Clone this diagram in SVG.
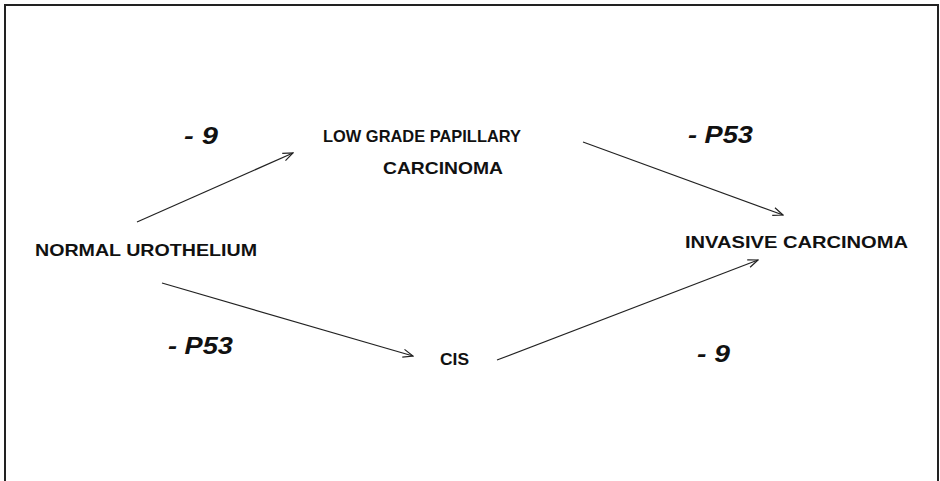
<svg xmlns="http://www.w3.org/2000/svg" width="940" height="481" viewBox="0 0 940 481">
<defs>
<style>
.lbl{font-family:"Liberation Sans",Arial,sans-serif;font-size:16.5px;font-weight:bold;fill:#111}
.mut{font-family:"Liberation Sans",Arial,sans-serif;font-size:23px;font-weight:bold;font-style:italic;fill:#111}
.edge{stroke:#222;stroke-width:1.2;fill:none;marker-end:url(#arr)}
.frame{stroke:#222;stroke-width:2;fill:none}
</style>
<marker id="arr" viewBox="0 0 12 10" refX="11" refY="5" markerWidth="12" markerHeight="10" markerUnits="userSpaceOnUse" orient="auto">
<polyline points="1,1 11,5 1,9" fill="none" stroke="#222" stroke-width="1.2"/>
</marker>
</defs>
<rect width="940" height="481" fill="#fff"/>
<path class="frame" d="M5,481 V5 H938 V481"/>
<g id="connectors">
<line class="edge" x1="137" y1="222" x2="293" y2="153"/>
<line class="edge" x1="583" y1="142" x2="783" y2="215"/>
<line class="edge" x1="162" y1="283" x2="413" y2="356"/>
<line class="edge" x1="497" y1="360" x2="758" y2="260"/>
</g>
<g id="normal"><text class="lbl" x="35" y="256" textLength="222" lengthAdjust="spacingAndGlyphs">NORMAL UROTHELIUM</text></g>
<g id="lowgrade">
<text class="lbl" x="323" y="142" textLength="198" lengthAdjust="spacingAndGlyphs">LOW GRADE PAPILLARY</text>
<text class="lbl" x="383" y="174" textLength="120" lengthAdjust="spacingAndGlyphs">CARCINOMA</text>
</g>
<g id="invasive"><text class="lbl" x="685" y="248" textLength="223" lengthAdjust="spacingAndGlyphs">INVASIVE CARCINOMA</text></g>
<g id="cis"><text class="lbl" x="440" y="365" textLength="29" lengthAdjust="spacingAndGlyphs">CIS</text></g>
<g id="labels">
<text class="mut" x="184" y="144" textLength="34" lengthAdjust="spacingAndGlyphs">- 9</text>
<text class="mut" x="688" y="143" textLength="65" lengthAdjust="spacingAndGlyphs">- P53</text>
<text class="mut" x="168" y="354" textLength="65" lengthAdjust="spacingAndGlyphs">- P53</text>
<text class="mut" x="697" y="362" textLength="33" lengthAdjust="spacingAndGlyphs">- 9</text>
</g>
</svg>
